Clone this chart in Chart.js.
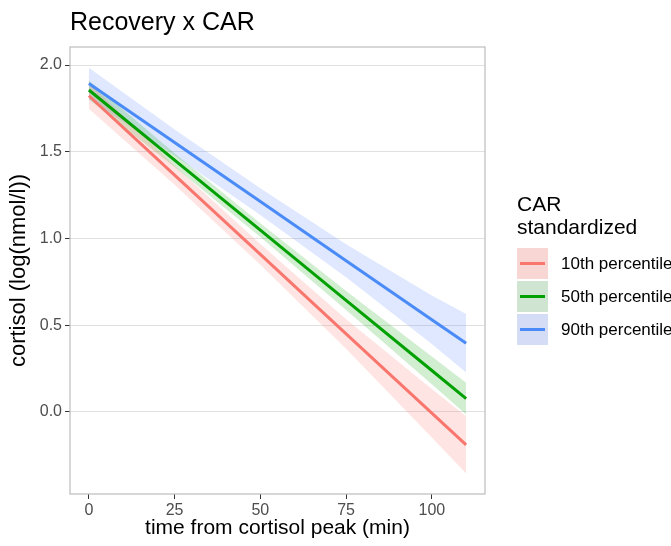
<!DOCTYPE html>
<html>
<head>
<meta charset="utf-8">
<script src="https://cdn.jsdelivr.net/npm/chart.js@4.4.0/dist/chart.umd.min.js"></script>
<style>
  body { margin: 0; background: #fff; font-family: "Liberation Sans", Arial, sans-serif; }
  #wrap { position: relative; width: 671px; height: 546px; overflow: hidden; }
  #chart { position: absolute; left: 0; top: 0; }
  #title { position: absolute; left: 70px; top: 7px; font-size: 25px; color: #000; white-space: nowrap; }
  #legend { position: absolute; left: 517px; top: 192px; white-space: nowrap; }
  #legend .head { font-size: 21px; line-height: 23px; color: #000; margin-bottom: 9px; }
  #legend .row { display: flex; align-items: center; height: 33px; }
  #legend .key { position: relative; width: 31px; height: 31px; margin-right: 13px; }
  #legend .key span { position: absolute; left: 3px; right: 3px; top: 14px; height: 3px; }
  #legend .lab { font-size: 17px; color: #000; }
</style>
</head>
<body>
<div id="wrap">
  <canvas id="chart" width="671" height="546"></canvas>
  <div id="title">Recovery x CAR</div>
  <div id="legend"></div>
</div>
<script>
// Werte
const timeMin = [0, 25, 50, 75, 100, 110];
const groups = ["10th percentile", "50th percentile", "90th percentile"];

const fit10 = [1.823, 1.365, 0.908, 0.450, -0.007, -0.190];
const lower10 = [1.748, 1.310, 0.848, 0.365, -0.147, -0.355];
const upper10 = [1.898, 1.420, 0.968, 0.535, 0.133, -0.025];

const fit50 = [1.856, 1.452, 1.048, 0.643, 0.239, 0.077];
const lower50 = [1.801, 1.412, 1.008, 0.588, 0.159, -0.015];
const upper50 = [1.911, 1.492, 1.088, 0.698, 0.319, 0.169];

const fit90 = [1.894, 1.553, 1.213, 0.872, 0.532, 0.396];
const lower90 = [1.804, 1.478, 1.136, 0.777, 0.392, 0.228];
const upper90 = [1.984, 1.628, 1.290, 0.967, 0.672, 0.564];

const xTicks = [0, 25, 50, 75, 100];
const yTicks = [0, 0.5, 1, 1.5, 2];

const lineColors = ["#F8766D", "#00A000", "#4A8BF7"];
const bandColors = ["rgba(248,118,109,0.2)", "rgba(0,160,0,0.18)", "rgba(97,140,255,0.2)"];
const keyColors = ["#f8d6d4", "#cfe5d2", "#d4ddf5"];

const toPoints = (arr) => arr.map((y, i) => ({ x: timeMin[i], y: y }));

const fits = [fit10, fit50, fit90];
const lowers = [lower10, lower50, lower90];
const uppers = [upper10, upper50, upper90];

// Linien zuerst (werden zuletzt gezeichnet, also oben), 90th ganz oben
const datasets = [];
[2, 1, 0].forEach((g) => {
    datasets.push({
        label: groups[g],
        data: toPoints(fits[g]),
        borderColor: lineColors[g],
        borderWidth: 3,
        pointRadius: 0,
        fill: false,
        order: 0,
    });
});
[0, 1, 2].forEach((g) => {
    const lowIdx = datasets.length;
    datasets.push({
        label: groups[g] + " lower",
        data: toPoints(lowers[g]),
        borderWidth: 0,
        borderColor: "transparent",
        pointRadius: 0,
        fill: false,
        order: 1,
    });
    datasets.push({
        label: groups[g] + " upper",
        data: toPoints(uppers[g]),
        borderWidth: 0,
        borderColor: "transparent",
        backgroundColor: bandColors[g],
        pointRadius: 0,
        fill: lowIdx,
        order: 1,
    });
});

// Rahmen um das Panel
const panelBorder = {
    id: "panelBorder",
    afterDatasetsDraw(chart) {
        const { ctx, chartArea: a } = chart;
        ctx.save();
        ctx.strokeStyle = "#bdbdbd";
        ctx.lineWidth = 1.2;
        ctx.strokeRect(a.left, a.top, a.right - a.left, a.bottom - a.top);
        ctx.restore();
    }
};

const font = "'Liberation Sans', Arial, sans-serif";

new Chart(document.getElementById("chart"), {
    type: "line",
    data: { datasets: datasets },
    options: {
        responsive: false,
        animation: false,
        layout: { padding: { top: 47, right: 186, bottom: 0, left: 0 } },
        plugins: {
            legend: { display: false },
            tooltip: { enabled: false },
            filler: { drawTime: "beforeDatasetsDraw" },
        },
        scales: {
            x: {
                type: "linear",
                min: -5.5,
                max: 115.5,
                afterBuildTicks: (s) => { s.ticks = xTicks.map((v) => ({ value: v })); },
                afterFit: (s) => { s.height = 52; },
                grid: { drawOnChartArea: false, tickColor: "#333", tickLength: 5 },
                border: { display: false },
                ticks: { color: "#4d4d4d", font: { family: font, size: 16 }, padding: 2, maxRotation: 0 },
                title: { display: true, text: "time from cortisol peak (min)", color: "#000",
                         font: { family: font, size: 21 }, padding: { top: 0, bottom: 5 } },
            },
            y: {
                type: "linear",
                min: -0.473,
                max: 2.104,
                afterBuildTicks: (s) => { s.ticks = yTicks.map((v) => ({ value: v })); },
                afterFit: (s) => { s.width = 70; },
                grid: { color: "#e0e0e0", lineWidth: 1, tickColor: "#333", tickLength: 5 },
                border: { display: false },
                ticks: { color: "#4d4d4d", font: { family: font, size: 16 }, padding: 3,
                         callback: (v) => v.toFixed(1) },
                title: { display: true, text: "cortisol (log(nmol/l))", color: "#000",
                         font: { family: font, size: 22 }, padding: { top: 6, bottom: 0 } },
            },
        },
    },
    plugins: [panelBorder],
});

// Legende im ggplot-Stil
const legend = document.getElementById("legend");
let html = '<div class="head">CAR<br>standardized</div>';
groups.forEach((g, i) => {
    html += '<div class="row"><div class="key" style="background:' + keyColors[i] + '">' +
            '<span style="background:' + lineColors[i] + '"></span></div>' +
            '<div class="lab">' + g + '</div></div>';
});
legend.innerHTML = html;
</script>
</body>
</html>
